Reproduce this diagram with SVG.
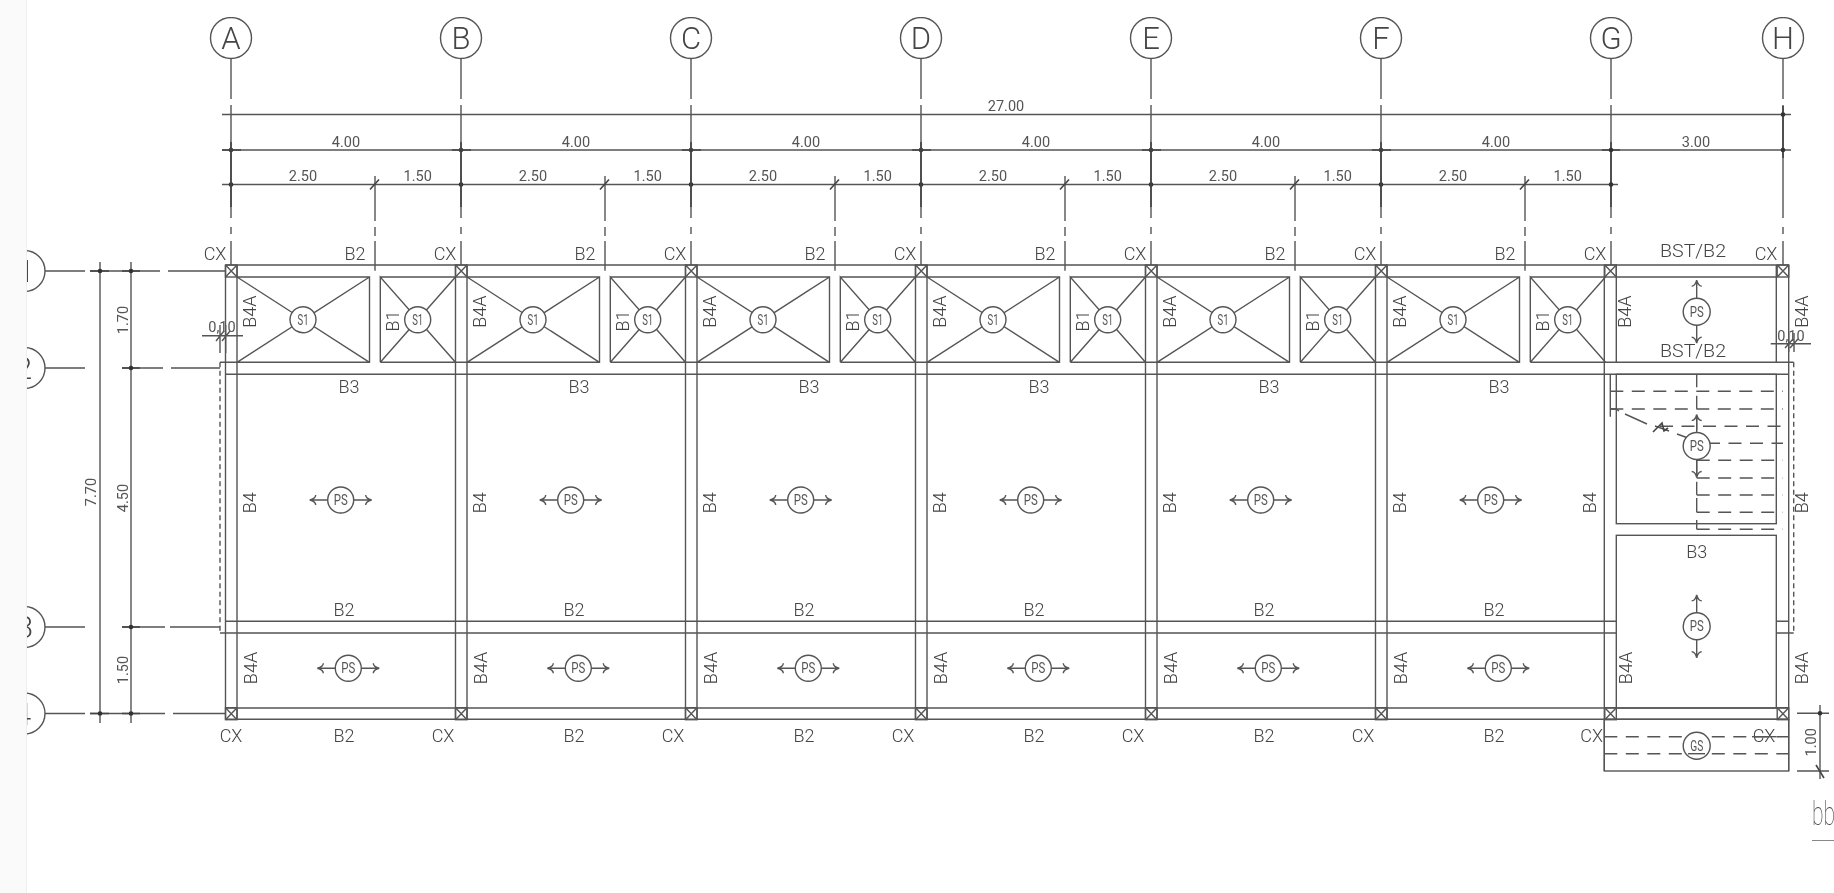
<svg xmlns="http://www.w3.org/2000/svg" xmlns:xlink="http://www.w3.org/1999/xlink" width="1834" height="893" viewBox="0 0 1834 893">
<style>
.l{fill:none;stroke:#555;stroke-width:1.4}
.k{fill:none;stroke:#444;stroke-width:1.6}
.f{fill:#fff;stroke:#555;stroke-width:1.4}
.das{fill:none;stroke:#555;stroke-width:1.4;stroke-dasharray:13 8.5}
.sd{fill:none;stroke:#555;stroke-width:1.4;stroke-dasharray:5 3.5}
text{font-family:"Roboto","Liberation Sans",sans-serif;font-weight:300;fill:#444;text-anchor:middle}
.m{font-size:18px}
.s{font-size:14.5px;font-weight:400;fill:#555}
.c{font-size:14.500px;font-weight:400;fill:#555}
.b{font-size:31px}
.dot{fill:#333}
</style>
<defs>
<filter id="soft" x="0" y="0" width="100%" height="100%" filterUnits="objectBoundingBox"><feGaussianBlur stdDeviation="0.45"/></filter>
<g id="colX"><rect class="l" x="-5.5" y="-6" width="11.5" height="12"/><path class="l" d="M-5.500-6L6 6M6-6L-5.500 6"/></g>
<g id="ah"><path class="l" d="M0 0L18 0M18 0C14 -1 12 -3 12 -5M18 0C14 1 12 3 12 5"/></g>
<g id="psH"><use xlink:href="#ah" href="#ah" transform="translate(13 0)"/><use xlink:href="#ah" href="#ah" transform="translate(-13 0) scale(-1 1)"/><circle class="f" r="13"/></g>
<g id="psV"><use xlink:href="#ah" href="#ah" transform="translate(0 13.5) rotate(90)"/><use xlink:href="#ah" href="#ah" transform="translate(0 -13.5) rotate(-90)"/><circle class="f" r="13.5"/></g>
<g id="bayLines">
<path class="l" d="M225.5 265V719.3M237 265V719.3M225.5 362.3H237"/>
<path class="l" d="M237 277H369.5V362.3H237M237 277L369.5 362.3M369.5 277L237 362.3"/>
<path class="l" d="M380.3 362.3V277L455.5 362.3M380.3 277H455.5M380.3 362.3L455.5 277M380.3 362.3H455.5"/>
<circle class="f" cx="303" cy="319.7" r="13"/>
<circle class="f" cx="417.7" cy="319.7" r="13"/>
<use xlink:href="#colX" href="#colX" x="231" y="271"/>
<use xlink:href="#colX" href="#colX" x="231" y="713.7"/>
<use xlink:href="#psH" href="#psH" x="340.7" y="500"/>
<use xlink:href="#psH" href="#psH" x="348.3" y="668.3"/>
<path class="l" d="M231 58V99M231 105V218M231 227V234M231 241V265"/>
<path class="l" d="M375 176V221M375 227V236M375 241V270.7"/>
<path class="k" d="M370 189.5L379 179.5"/>
<circle class="dot" cx="231" cy="150" r="2.3"/>
<circle class="dot" cx="231" cy="184.5" r="2.3"/>
<path class="k" d="M231 142V207M222 150H241"/>
<circle class="f" cx="231" cy="38" r="20.5"/>
</g>
</defs>
<rect width="1834" height="893" fill="#fff"/>
<g id="drawing" filter="url(#soft)">
<g id="connectors">
<path class="l" d="M222 114.500H1791M222 150H1791M222 184.500H1618"/>
<path class="l" d="M225.5 265H1788.700M225.5 374.300H1788.700M225.5 621.300H1616.300M225.5 633H1616.300M1776.300 621.300H1788.700M1776.300 633H1793.700M225.5 708H1788.700M225.5 719.300H1788.700"/>
<path class="l" d="M45 271H85M90 271H160M168 271H225M45 368H85M122 368H163M171 368H220M45 627H85M122 627H165M170 627H220M45 713.5H85M90 713.5H165M173 713.5H225"/>
<path class="l" d="M100 262V723M131 262V723"/>
<path class="k" d="M90 271H109M122 271H140M122 368H140M122 627H140M90 713.5H109M122 713.5H140"/>
<path class="sd" d="M220 362.300V633M1793.700 362.300V633"/>
<path class="l" d="M220 633H225.5M220 362.300H225.5M202 335.700H243M220 325V353M225.700 325V353M216 341L224 331M222 341L230 331"/>
<path class="l" d="M1770.700 343.700H1811M1788.700 333V352M1794 333V352M1785 348L1793 339M1790 348L1798 339"/>
<circle class="dot" cx="100" cy="271" r="2.3"/><circle class="dot" cx="131" cy="271" r="2.3"/><circle class="dot" cx="131" cy="368" r="2.3"/><circle class="dot" cx="131" cy="627" r="2.3"/><circle class="dot" cx="100" cy="713.5" r="2.3"/><circle class="dot" cx="131" cy="713.5" r="2.3"/>
</g>

<g id="bay-A">
<use xlink:href="#bayLines" href="#bayLines"/>
<text class="b" x="231" y="49">A</text>
<text class="s" x="346" y="146.5">4.00</text><text class="s" x="303" y="181">2.50</text><text class="s" x="417.7" y="181">1.50</text>
<text class="m" x="215" y="259.5">CX</text><text class="m" x="355" y="259.5">B2</text>
<text class="c" x="303" y="325" textLength="11" lengthAdjust="spacingAndGlyphs">S1</text><text class="c" x="417.7" y="325" textLength="11" lengthAdjust="spacingAndGlyphs">S1</text>
<text class="m" transform="rotate(-90 256.5 311.7)" x="256.5" y="311.7">B4A</text>
<text class="m" transform="rotate(-90 399 321)" x="399" y="321">B1</text>
<text class="m" x="349" y="393">B3</text>
<text class="m" transform="rotate(-90 256.5 502.7)" x="256.5" y="502.7">B4</text>
<text class="c" x="340.7" y="505" textLength="14" lengthAdjust="spacingAndGlyphs">PS</text>
<text class="m" x="344" y="615.5">B2</text>
<text class="m" transform="rotate(-90 256.5 668)" x="256.5" y="668">B4A</text>
<text class="c" x="348.3" y="673" textLength="14" lengthAdjust="spacingAndGlyphs">PS</text>
<text class="m" x="231" y="741.5">CX</text><text class="m" x="344" y="741.5">B2</text>
</g>
<g id="bay-B" transform="translate(230 0)">
<use xlink:href="#bayLines" href="#bayLines"/>
<text class="b" x="231" y="49">B</text>
<text class="s" x="346" y="146.5">4.00</text><text class="s" x="303" y="181">2.50</text><text class="s" x="417.7" y="181">1.50</text>
<text class="m" x="215" y="259.5">CX</text><text class="m" x="355" y="259.5">B2</text>
<text class="c" x="303" y="325" textLength="11" lengthAdjust="spacingAndGlyphs">S1</text><text class="c" x="417.7" y="325" textLength="11" lengthAdjust="spacingAndGlyphs">S1</text>
<text class="m" transform="rotate(-90 256.5 311.7)" x="256.5" y="311.7">B4A</text>
<text class="m" transform="rotate(-90 399 321)" x="399" y="321">B1</text>
<text class="m" x="349" y="393">B3</text>
<text class="m" transform="rotate(-90 256.5 502.7)" x="256.5" y="502.7">B4</text>
<text class="c" x="340.7" y="505" textLength="14" lengthAdjust="spacingAndGlyphs">PS</text>
<text class="m" x="344" y="615.5">B2</text>
<text class="m" transform="rotate(-90 256.5 668)" x="256.5" y="668">B4A</text>
<text class="c" x="348.3" y="673" textLength="14" lengthAdjust="spacingAndGlyphs">PS</text>
<text class="m" x="213" y="741.5">CX</text><text class="m" x="344" y="741.5">B2</text>
</g>
<g id="bay-C" transform="translate(460 0)">
<use xlink:href="#bayLines" href="#bayLines"/>
<text class="b" x="231" y="49">C</text>
<text class="s" x="346" y="146.5">4.00</text><text class="s" x="303" y="181">2.50</text><text class="s" x="417.7" y="181">1.50</text>
<text class="m" x="215" y="259.5">CX</text><text class="m" x="355" y="259.5">B2</text>
<text class="c" x="303" y="325" textLength="11" lengthAdjust="spacingAndGlyphs">S1</text><text class="c" x="417.7" y="325" textLength="11" lengthAdjust="spacingAndGlyphs">S1</text>
<text class="m" transform="rotate(-90 256.5 311.7)" x="256.5" y="311.7">B4A</text>
<text class="m" transform="rotate(-90 399 321)" x="399" y="321">B1</text>
<text class="m" x="349" y="393">B3</text>
<text class="m" transform="rotate(-90 256.5 502.7)" x="256.5" y="502.7">B4</text>
<text class="c" x="340.7" y="505" textLength="14" lengthAdjust="spacingAndGlyphs">PS</text>
<text class="m" x="344" y="615.5">B2</text>
<text class="m" transform="rotate(-90 256.5 668)" x="256.5" y="668">B4A</text>
<text class="c" x="348.3" y="673" textLength="14" lengthAdjust="spacingAndGlyphs">PS</text>
<text class="m" x="213" y="741.5">CX</text><text class="m" x="344" y="741.5">B2</text>
</g>
<g id="bay-D" transform="translate(690 0)">
<use xlink:href="#bayLines" href="#bayLines"/>
<text class="b" x="231" y="49">D</text>
<text class="s" x="346" y="146.5">4.00</text><text class="s" x="303" y="181">2.50</text><text class="s" x="417.7" y="181">1.50</text>
<text class="m" x="215" y="259.5">CX</text><text class="m" x="355" y="259.5">B2</text>
<text class="c" x="303" y="325" textLength="11" lengthAdjust="spacingAndGlyphs">S1</text><text class="c" x="417.7" y="325" textLength="11" lengthAdjust="spacingAndGlyphs">S1</text>
<text class="m" transform="rotate(-90 256.5 311.7)" x="256.5" y="311.7">B4A</text>
<text class="m" transform="rotate(-90 399 321)" x="399" y="321">B1</text>
<text class="m" x="349" y="393">B3</text>
<text class="m" transform="rotate(-90 256.5 502.7)" x="256.5" y="502.7">B4</text>
<text class="c" x="340.7" y="505" textLength="14" lengthAdjust="spacingAndGlyphs">PS</text>
<text class="m" x="344" y="615.5">B2</text>
<text class="m" transform="rotate(-90 256.5 668)" x="256.5" y="668">B4A</text>
<text class="c" x="348.3" y="673" textLength="14" lengthAdjust="spacingAndGlyphs">PS</text>
<text class="m" x="213" y="741.5">CX</text><text class="m" x="344" y="741.5">B2</text>
</g>
<g id="bay-E" transform="translate(920 0)">
<use xlink:href="#bayLines" href="#bayLines"/>
<text class="b" x="231" y="49">E</text>
<text class="s" x="346" y="146.5">4.00</text><text class="s" x="303" y="181">2.50</text><text class="s" x="417.7" y="181">1.50</text>
<text class="m" x="215" y="259.5">CX</text><text class="m" x="355" y="259.5">B2</text>
<text class="c" x="303" y="325" textLength="11" lengthAdjust="spacingAndGlyphs">S1</text><text class="c" x="417.7" y="325" textLength="11" lengthAdjust="spacingAndGlyphs">S1</text>
<text class="m" transform="rotate(-90 256.5 311.7)" x="256.5" y="311.7">B4A</text>
<text class="m" transform="rotate(-90 399 321)" x="399" y="321">B1</text>
<text class="m" x="349" y="393">B3</text>
<text class="m" transform="rotate(-90 256.5 502.7)" x="256.5" y="502.7">B4</text>
<text class="c" x="340.7" y="505" textLength="14" lengthAdjust="spacingAndGlyphs">PS</text>
<text class="m" x="344" y="615.5">B2</text>
<text class="m" transform="rotate(-90 256.5 668)" x="256.5" y="668">B4A</text>
<text class="c" x="348.3" y="673" textLength="14" lengthAdjust="spacingAndGlyphs">PS</text>
<text class="m" x="213" y="741.5">CX</text><text class="m" x="344" y="741.5">B2</text>
</g>
<g id="bay-F" transform="translate(1150 0)">
<use xlink:href="#bayLines" href="#bayLines"/>
<text class="b" x="231" y="49">F</text>
<text class="s" x="346" y="146.5">4.00</text><text class="s" x="303" y="181">2.50</text><text class="s" x="417.7" y="181">1.50</text>
<text class="m" x="215" y="259.5">CX</text><text class="m" x="355" y="259.5">B2</text>
<text class="c" x="303" y="325" textLength="11" lengthAdjust="spacingAndGlyphs">S1</text><text class="c" x="417.7" y="325" textLength="11" lengthAdjust="spacingAndGlyphs">S1</text>
<text class="m" transform="rotate(-90 256.5 311.7)" x="256.5" y="311.7">B4A</text>
<text class="m" transform="rotate(-90 399 321)" x="399" y="321">B1</text>
<text class="m" x="349" y="393">B3</text>
<text class="m" transform="rotate(-90 256.5 502.7)" x="256.5" y="502.7">B4</text>
<text class="c" x="340.7" y="505" textLength="14" lengthAdjust="spacingAndGlyphs">PS</text>
<text class="m" x="344" y="615.5">B2</text>
<text class="m" transform="rotate(-90 256.5 668)" x="256.5" y="668">B4A</text>
<text class="c" x="348.3" y="673" textLength="14" lengthAdjust="spacingAndGlyphs">PS</text>
<text class="m" x="213" y="741.5">CX</text><text class="m" x="344" y="741.5">B2</text>
</g>

<g id="bay-G">
<path class="l" d="M1604.300 265V771M1616.300 265V362.300M1788.700 265V771M1776.300 265V362.300M1616.300 277H1776.300M1604.300 362.300H1793.700"/>
<rect class="l" x="1616.3" y="374.3" width="160" height="149.4"/>
<rect class="l" x="1616.3" y="535.3" width="160" height="172.7"/>
<rect class="l" x="1604.3" y="719.3" width="184.4" height="51.7"/>
<path class="l" d="M1610.300 374.300V416.700M1696.700 512.300V498M1696.700 529.300V520"/>
<path class="das" d="M1610.300 391.300H1783M1610.300 409H1783M1660 426.300H1783M1707 443.300H1783M1696.700 460.300H1783M1696.700 478H1783M1696.700 495H1783M1696.700 512.300H1783M1696.700 529.300H1783M1696.700 374.300V498"/>
<path class="das" d="M1604.300 736.700H1788.700M1604.300 753.700H1788.700"/>
<path class="l" d="M1611 409H1616L1619 411M1625 414L1647 424M1655 426L1669 431M1677 434L1688 438"/>
<path class="k" d="M1653 432L1662 423L1664 431L1668 428"/>
<use xlink:href="#colX" href="#colX" x="1610.3" y="271"/>
<use xlink:href="#colX" href="#colX" x="1610.3" y="713.7"/>
<use xlink:href="#colX" href="#colX" x="1782.7" y="271"/>
<use xlink:href="#colX" href="#colX" x="1782.7" y="713.7"/>
<path class="l" d="M1611 58V99M1611 105V218M1611 227V234M1611 241V265M1783 58V99M1783 105V218M1783 227V234M1783 241V265"/>
<path class="k" d="M1611 142V207M1602 150H1620M1783 106V158"/>
<circle class="dot" cx="1611" cy="150" r="2.3"/><circle class="dot" cx="1611" cy="184.5" r="2.3"/><circle class="dot" cx="1783" cy="114.5" r="2.3"/><circle class="dot" cx="1783" cy="150" r="2.3"/>
<use xlink:href="#psV" href="#psV" x="1696.7" y="311.7"/>
<use xlink:href="#psV" href="#psV" x="1696.7" y="446"/>
<use xlink:href="#psV" href="#psV" x="1696.7" y="626.3"/>
<circle class="f" cx="1696.7" cy="745.7" r="13.5"/><path class="l" d="M1688 753.700H1705"/>
<circle class="f" cx="1611" cy="38" r="20.5"/><circle class="f" cx="1783" cy="38" r="20.5"/>
<text class="b" x="1611" y="49">G</text><text class="b" x="1783" y="49">H</text>
<text class="s" x="1006" y="110.5">27.00</text><text class="s" x="1696" y="146.5">3.00</text>
<text class="m" x="1693" y="257" textLength="66" lengthAdjust="spacingAndGlyphs">BST/B2</text><text class="m" x="1693" y="357" textLength="66" lengthAdjust="spacingAndGlyphs">BST/B2</text>
<text class="m" x="1595" y="259.5">CX</text><text class="m" x="1766" y="259.5">CX</text>
<text class="c" x="1696.7" y="316.7" textLength="14" lengthAdjust="spacingAndGlyphs">PS</text>
<text class="c" x="1696.7" y="451" textLength="14" lengthAdjust="spacingAndGlyphs">PS</text>
<text class="c" x="1696.7" y="631.3" textLength="14" lengthAdjust="spacingAndGlyphs">PS</text>
<text class="c" x="1696.7" y="750.5" textLength="13" lengthAdjust="spacingAndGlyphs">GS</text>
<text class="m" x="1696.7" y="558">B3</text>
<text class="m" transform="rotate(-90 1631.5 311.7)" x="1631.5" y="311.7">B4A</text>
<text class="m" transform="rotate(-90 1808 311.7)" x="1808" y="311.7">B4A</text>
<text class="m" transform="rotate(-90 1596.5 502.7)" x="1596.5" y="502.7">B4</text>
<text class="m" transform="rotate(-90 1808 502.7)" x="1808" y="502.7">B4</text>
<text class="m" transform="rotate(-90 1631.5 668)" x="1631.5" y="668">B4A</text>
<text class="m" transform="rotate(-90 1808 668)" x="1808" y="668">B4A</text>
<text class="m" x="1591.7" y="741.5">CX</text><text class="m" x="1764" y="741.5">CX</text>
<path class="l" d="M1752 736.700H1776"/>
</g>

<g id="dimensions">
<text class="s" x="222" y="332">0,10</text>
<text class="s" x="1791" y="340.5">0,10</text>
<text class="s" transform="rotate(-90 128 320)" x="128" y="320">1.70</text>
<text class="s" transform="rotate(-90 128 498)" x="128" y="498">4.50</text>
<text class="s" transform="rotate(-90 128 670)" x="128" y="670">1.50</text>
<text class="s" transform="rotate(-90 96 492)" x="96" y="492">7.70</text>
<path class="l" d="M1820 705V779M1797 713.300H1829M1797 771H1829"/>
<path class="k" d="M1816 765L1824 778"/>
<circle class="dot" cx="1820" cy="713.3" r="2.3"/>
<text class="s" transform="rotate(-90 1816.5 742.3)" x="1816.5" y="742.3">1.00</text>
<text class="m" style="font-size:33px;text-anchor:start;font-weight:100" transform="translate(1812 825) scale(0.64 1)" x="0" y="0">bb</text>
<path class="l" d="M1812 841H1834"/>
</g>

<g id="row-bubbles">
<circle class="f" cx="24.5" cy="271" r="20.5"/><circle class="f" cx="24.5" cy="368" r="20.5"/><circle class="f" cx="24.5" cy="627" r="20.5"/><circle class="f" cx="24.5" cy="713.5" r="20.5"/>
<text class="b" x="26" y="282">1</text><text class="b" x="23.5" y="379">2</text><text class="b" x="24.5" y="638">3</text><text class="b" x="22.5" y="724.5">4</text>
</g>
</g>
<rect x="0" y="0" width="26" height="893" fill="#fafafa"/>
<path d="M26.500 0V893" stroke="#eee" stroke-width="1"/>
</svg>
